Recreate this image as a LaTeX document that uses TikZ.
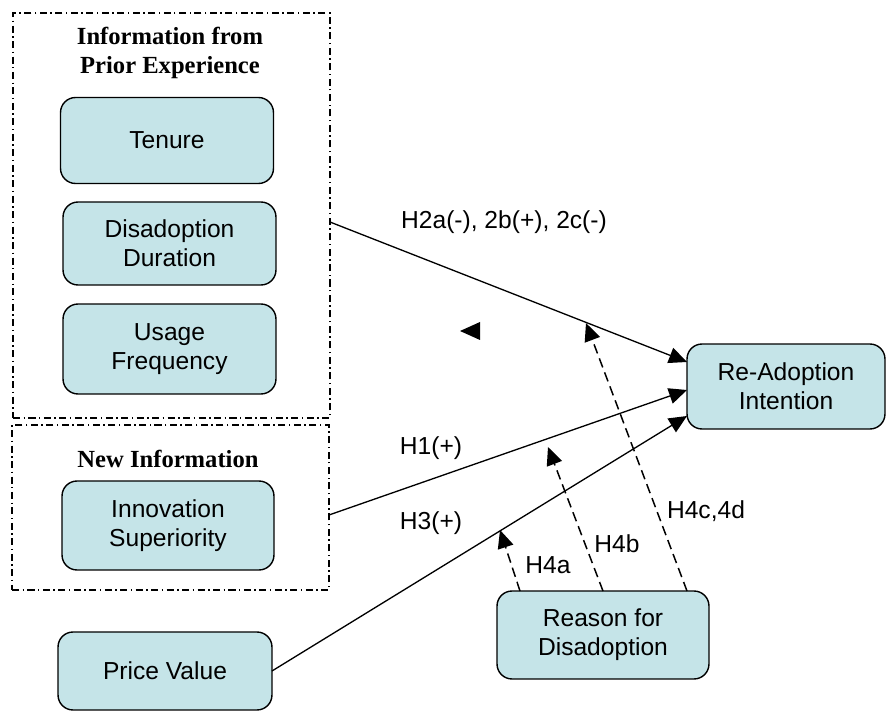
\documentclass[tikz,border=0pt]{standalone}
\usepackage{fontspec}
\setmainfont{Liberation Serif}
\setsansfont{Liberation Sans}
\usetikzlibrary{arrows.meta,positioning}
\definecolor{boxfill}{RGB}{197,228,232}

\begin{document}
\begin{tikzpicture}[x=0.02cm,y=-0.02cm]
\tikzset{
  factor/.style={rectangle,rounded corners=0.3cm,draw,line width=0.8pt,fill=boxfill,
    minimum width=4.26cm,minimum height=1.72cm,inner sep=1pt,outer sep=0pt,align=center,
    font=\sffamily\fontsize{14}{16.5}\selectfont},
  group/.style={rectangle,draw,line width=0.7pt,outer sep=0pt,
    dash pattern=on 4pt off 2pt on 0.8pt off 2pt},
  grouptitle/.style={align=center,font=\bfseries\fontsize{14}{16.5}\selectfont},
  hyp/.style={font=\sffamily\fontsize{14}{16.5}\selectfont,inner sep=0pt},
  directed/.style={-{Triangle[length=3.6mm,width=3.2mm]},line width=0.75pt},
  moderating/.style={directed,line width=0.85pt,dash pattern=on 5.5pt off 3pt}
}
\useasboundingbox (0,0) rectangle (887,713);
% groups of predictors
\node[group,minimum width=6.34cm,minimum height=8.1cm] (n_prior) at (171.5,215.5) {};
\node[group,minimum width=6.34cm,minimum height=3.3cm] (n_new) at (170.5,507.5) {};
\node[grouptitle] (t_prior) at (170,53) {Information from\\Prior Experience};
\node[grouptitle] (t_new) at (168,459) {New Information};
% constructs
\node[factor] (n_tenure) at (167,140.5) {Tenure};
\node[factor,minimum height=1.66cm] (n_dur) at (169.5,243.5) {Disadoption\\Duration};
\node[factor,minimum height=1.8cm] (n_freq) at (169.5,349) {Usage\\Frequency};
\node[factor,minimum width=4.24cm,minimum height=1.78cm] (n_innov) at (168,525.5) {Innovation\\Superiority};
\node[factor,minimum width=4.28cm,minimum height=1.56cm] (n_price) at (165,671) {Price Value};
\node[factor,minimum width=3.96cm,minimum height=1.7cm] (n_readopt) at (786,386.5) {Re-Adoption\\Intention};
\node[factor,minimum width=4.24cm,minimum height=1.76cm] (n_reason) at (603,635) {Reason for\\Disadoption};
% main effects
\draw[directed] (n_prior.east |- 0,222) -- (n_readopt.west |- 0,362);
\draw[directed] (n_new.east |- 0,515) -- (n_readopt.west |- 0,390);
\draw[directed] (n_price.east) -- (n_readopt.west |- 0,416);
% moderation by reason for disadoption
\coordinate (m_h4a) at (500,530);
\coordinate (m_h4b) at (548,447);
\coordinate (m_h4c) at (586,323);
\draw[moderating] (n_reason.north -| 520,0) -- (m_h4a);
\draw[moderating] (n_reason.north -| 603,0) -- (m_h4b);
\draw[moderating] (n_reason.north -| 687,0) -- (m_h4c);
\fill (480,322) -- (460,331) -- (480,340) -- cycle;
% hypothesis labels
\node[hyp] (l_h2) at (504,222) {H2a(-), 2b(+), 2c(-)};
\node[hyp] (l_h1) at (431,448) {H1(+)};
\node[hyp] (l_h3) at (431,523) {H3(+)};
\node[hyp] (l_h4a) at (548,565) {H4a};
\node[hyp] (l_h4b) at (617,544) {H4b};
\node[hyp] (l_h4c) at (706,511) {H4c,4d};
\end{tikzpicture}
\end{document}
